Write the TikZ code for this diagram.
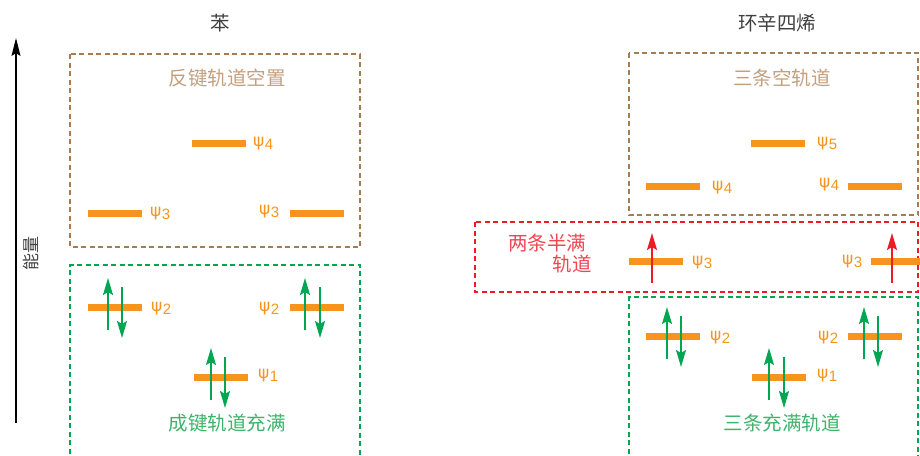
\documentclass[tikz,border=0pt]{standalone}
\usepackage{fontspec}
\setmainfont{Liberation Sans}
\newfontfamily\cjk{Noto Sans CJK SC}
\newfontfamily\psifont{DejaVu Sans}
\usetikzlibrary{arrows.meta}
\definecolor{orng}{HTML}{F7941D}
\definecolor{grnarrow}{HTML}{00A651}
\definecolor{grnbox}{HTML}{00A651}
\definecolor{grntext}{HTML}{3DB36B}
\definecolor{brnbox}{HTML}{A67C52}
\definecolor{brntext}{HTML}{C4A07E}
\definecolor{redbox}{HTML}{ED1C24}
\definecolor{redtext}{HTML}{EF4650}
\definecolor{titlegray}{HTML}{404040}
\newcommand{\psilab}[1]{{\psifont\fontsize{17}{17}\selectfont ψ}\kern0.5pt\raisebox{-3pt}{\fontsize{15}{15}\selectfont #1}}
\begin{document}
\begin{tikzpicture}[x=1pt,y=-1pt,
  lvl/.style={fill=orng,draw=none,minimum width=54pt,minimum height=7pt,inner sep=0pt},
  psl/.style={text=orng,inner sep=0pt,anchor=west},
  cjklab/.style={font=\cjk\fontsize{19.5}{21}\selectfont,inner sep=0pt},
  dbox/.style={line width=1.4pt,dash pattern=on 5pt off 3.5pt},
  eup/.style={draw=grnarrow,line width=1.6pt,-{Stealth[length=17pt,width=10pt,inset=3pt]}},
  rup/.style={draw=redbox,line width=1.6pt,-{Stealth[length=17pt,width=10pt,inset=3pt]}},
]
\useasboundingbox (0,0) rectangle (920,455);
% energy axis
\coordinate (ebot) at (16,423);
\coordinate (etop) at (16,38);
\draw[line width=1.3pt,-{Stealth[length=18pt,width=9pt,inset=3pt]}] (ebot) -- (etop);
\node[cjklab,rotate=90,text=titlegray,font=\cjk\fontsize{17}{17}\selectfont] (elab) at (31,253) {能量};
% titles
\node[cjklab,text=titlegray] (t1) at (220,23) {苯};
\node[cjklab,text=titlegray] (t2) at (777,23) {环辛四烯};
% boxes
\draw[dbox,draw=brnbox] (70,54) rectangle (360,247);
\draw[dbox,draw=grnbox] (70,462) -- (70,265) -- (360,265) -- (360,462);
\draw[dbox,draw=brnbox] (629,53) rectangle (918,215);
\draw[dbox,draw=redbox] (475,222) rectangle (918,292);
\draw[dbox,draw=grnbox] (629,462) -- (629,297) -- (918,297) -- (918,462);
% box labels
\node[cjklab,text=brntext] (bl1) at (227,78) {反键轨道空置};
\node[cjklab,text=grntext] (gl1) at (227,423) {成键轨道充满};
\node[cjklab,text=brntext] (bl2) at (782,78) {三条空轨道};
\node[cjklab,text=grntext] (gl2) at (782,423) {三条充满轨道};
\node[cjklab,text=redtext] (rl1) at (547,243) {两条半满};
\node[cjklab,text=redtext,anchor=east] (rl2) at (592,264) {轨道};
% benzene levels
\node[lvl] (L4) at (219,143) {};
\node[lvl] (L3a) at (115,213) {};
\node[lvl] (L3b) at (317,213) {};
\node[lvl] (L2a) at (115,307) {};
\node[lvl] (L2b) at (317,307) {};
\node[lvl] (L1) at (221,377) {};
\node[psl] at (253,144) {\psilab{4}};
\node[psl] at (150,214) {\psilab{3}};
\node[psl] at (259,212) {\psilab{3}};
\node[psl] at (151,309) {\psilab{2}};
\node[psl] at (259,309) {\psilab{2}};
\node[psl] at (258,376) {\psilab{1}};
% cyclooctatetraene levels
\node[lvl] (R5) at (778,143) {};
\node[lvl] (R4a) at (673,186) {};
\node[lvl] (R4b) at (875,186) {};
\node[lvl] (R3a) at (656,261) {};
\node[lvl] (R3b) at (898,261) {};
\node[lvl] (R2a) at (673,336) {};
\node[lvl] (R2b) at (875,336) {};
\node[lvl] (R1) at (779,377) {};
\node[psl] at (817,144) {\psilab{5}};
\node[psl] at (712,188) {\psilab{4}};
\node[psl] at (819,185) {\psilab{4}};
\node[psl] at (692,263) {\psilab{3}};
\node[psl] at (842,262) {\psilab{3}};
\node[psl] at (710,338) {\psilab{2}};
\node[psl] at (818,338) {\psilab{2}};
\node[psl] at (817,376) {\psilab{1}};
% electron pairs
\newcommand{\epair}[3]{%
  \draw[eup] ([shift={(#2,23)}]#1.center) -- ([shift={(#2,-29)}]#1.center);
  \draw[eup] ([shift={(#3,-20)}]#1.center) -- ([shift={(#3,31)}]#1.center);}
\epair{L2a}{-7}{7}
\epair{L2b}{-12}{3}
\epair{L1}{-10}{4}
\epair{R2a}{-6}{8}
\epair{R2b}{-11}{3}
\epair{R1}{-10}{5}
% single electrons
\draw[rup] ([shift={(-4,22)}]R3a.center) -- ([shift={(-4,-28)}]R3a.center);
\draw[rup] ([shift={(-6,22)}]R3b.center) -- ([shift={(-6,-28)}]R3b.center);
\end{tikzpicture}
\end{document}
